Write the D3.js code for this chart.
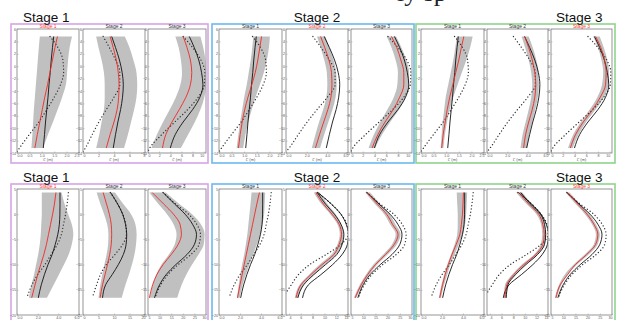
<!DOCTYPE html>
<html>
<head>
<meta charset="utf-8">
<script src="https://cdnjs.cloudflare.com/ajax/libs/d3/7.8.5/d3.min.js"></script>
<style>
body { margin: 0; background: #fff; }
svg { display: block; font-family: "Liberation Sans", Arial, sans-serif; }
</style>
</head>
<body>
<div id="chart"></div>
<script>
// depth grids (m), shared by every panel of a row
var topDepth = [4.8, 3, 1, -1, -3, -5, -7, -9, -11, -13.2];
var topDotDepth = [4.8, 3, 1, -1, -3, -5, -7, -9, -11, -13.2, -13.8];
var botDepth = [4.3, 2, 0, -2, -4, -6, -8, -10, -12, -14, -16.6];

var stageNames = ["Stage 1", "Stage 2", "Stage 3"];

// axis ranges and tick labels
var topYTicks = [6, 4, 2, 0, -2, -4, -6, -8, -10, -12, -14];
var botYTicks = [5, 0, -5, -10, -15, -20];
var topXDomains = [
	[[0, 2.5], [0, 8], [0, 10.4]],
	[[0, 2.5], [0, 6], [0, 10.4]],
	[[0, 2.5], [0, 6], [0, 10.4]]
];
var topXTicks = [
	[[0, 0.5, 1, 1.5, 2, 2.5], [0, 2, 4, 6, 8], [0, 2, 4, 6, 8, 10]],
	[[0, 0.5, 1, 1.5, 2, 2.5], [0, 2, 4, 6], [0, 2, 4, 6, 8, 10]],
	[[0, 0.5, 1, 1.5, 2, 2.5], [0, 2, 4, 6], [0, 2, 4, 6, 8, 10]]
];
var botXDomains = [
	[[0, 6], [0, 20], [5, 30]],
	[[0, 6], [3.5, 14], [5, 30]],
	[[0, 6], [3.5, 14], [5, 30]]
];
var botXTicks = [
	[[0, 2, 4, 6], [0, 5, 10, 15, 20], [5, 10, 15, 20, 25, 30]],
	[[0, 2, 4, 6], [4, 6, 8, 10, 12, 14], [5, 10, 15, 20, 25, 30]],
	[[0, 2, 4, 6], [4, 6, 8, 10, 12, 14], [5, 10, 15, 20, 25, 30]]
];

// reference profiles (black solid) and initial profiles (dotted)
var topTruth = [
	[1.48, 1.43, 1.38, 1.34, 1.29, 1.25, 1.2, 1.15, 1.11, 1.06],
	[3.7, 4.2, 4.7, 5.05, 5.2, 5.1, 4.85, 4.5, 4.2, 3.9],
	[7.4, 8.3, 9.1, 9.6, 9.85, 9.3, 8.0, 6.3, 4.9, 4.0]
];
var topDot = [
	[1.33, 1.65, 1.85, 1.88, 1.75, 1.5, 1.2, 0.88, 0.5, 0.1, 0],
	[2.6, 3.4, 4.2, 4.75, 4.75, 4.0, 3.0, 2.05, 1.2, 0.3, 0],
	[6.3, 8.0, 9.5, 10.2, 10.1, 9.0, 7.1, 4.8, 2.5, 0.3, 0]
];
var botTruth = [
	[4.16, 4.16, 4.15, 4.1, 3.95, 3.7, 3.4, 3.0, 2.65, 2.35, 2.06],
	[8.9, 11.2, 12.8, 13.7, 14.1, 13.9, 13.0, 11.4, 9.4, 7.3, 6.3],
	[11.5, 16.5, 21.0, 24.2, 25.9, 25.0, 21.8, 17.0, 12.8, 10.0, 7.8]
];
var botDot = [
	[4.97, 4.85, 4.7, 4.5, 4.3, 3.9, 3.3, 2.7, 2.0, 1.45, 0.95],
	[8.8, 11.2, 12.8, 13.8, 14.0, 12.8, 10.3, 7.5, 5.6, 4.4, 3.0],
	[11.5, 17.0, 22.5, 26.0, 27.6, 27.0, 23.5, 18.0, 13.5, 10.5, 8.0]
];

// estimated mean (red) and spread (grey band), top row
var topPurpleLo = [
	[0.92, 0.88, 0.84, 0.80, 0.76, 0.72, 0.68, 0.65, 0.62, 0.58],
	[1.7, 2.0, 2.4, 2.7, 2.8, 2.8, 2.7, 2.4, 2.1, 1.7],
	[4.9, 5.5, 5.9, 6.1, 5.8, 5.0, 3.9, 2.7, 1.6, 0.6]
];
var topPurpleHi = [
	[2.22, 2.12, 2.06, 2.02, 1.97, 1.82, 1.64, 1.45, 1.25, 1.05],
	[5.4, 6.0, 6.5, 6.9, 7.0, 6.9, 6.6, 6.2, 5.8, 5.3],
	[9.4, 9.9, 10.3, 10.4, 10.4, 10.1, 9.4, 8.4, 7.2, 5.9]
];
var topPurpleRed = [
	[1.63, 1.53, 1.43, 1.33, 1.23, 1.12, 1.02, 0.92, 0.82, 0.72],
	[3.5, 3.9, 4.3, 4.55, 4.65, 4.6, 4.4, 4.0, 3.5, 3.0],
	[6.3, 7.0, 7.6, 7.85, 7.6, 6.8, 5.6, 4.3, 3.2, 2.6]
];
var topBlueLo = [
	[1.36, 1.32, 1.26, 1.18, 1.1, 1.0, 0.92, 0.84, 0.77, 0.7],
	[3.0, 3.35, 3.7, 3.95, 4.0, 3.9, 3.6, 3.2, 2.85, 2.5],
	[6.1, 6.9, 7.6, 8.0, 7.9, 7.3, 6.2, 5.0, 3.9, 3.0]
];
var topBlueHi = [
	[2.02, 1.98, 1.9, 1.78, 1.62, 1.45, 1.3, 1.16, 1.05, 0.96],
	[3.8, 4.2, 4.6, 4.85, 4.9, 4.8, 4.5, 4.1, 3.7, 3.3],
	[7.7, 8.6, 9.4, 9.9, 9.9, 9.3, 8.2, 6.7, 5.3, 4.1]
];
var topBlueRed = [
	[1.69, 1.62, 1.54, 1.44, 1.3, 1.15, 1.02, 0.92, 0.84, 0.77],
	[3.35, 3.75, 4.15, 4.4, 4.45, 4.35, 4.05, 3.65, 3.25, 2.85],
	[6.9, 7.8, 8.5, 9.0, 9.0, 8.3, 7.2, 5.8, 4.6, 3.6]
];
var topGreenLo = [
	[1.42, 1.36, 1.28, 1.18, 1.08, 0.98, 0.92, 0.86, 0.82, 0.78],
	[3.4, 3.75, 4.1, 4.35, 4.45, 4.35, 4.1, 3.8, 3.5, 3.3],
	[7.2, 8.0, 8.6, 8.9, 8.7, 7.9, 6.6, 5.1, 3.8, 2.9]
];
var topGreenHi = [
	[2.05, 1.95, 1.8, 1.62, 1.45, 1.28, 1.14, 1.03, 0.95, 0.89],
	[4.1, 4.5, 4.85, 5.05, 5.1, 5.0, 4.75, 4.45, 4.15, 3.95],
	[8.3, 9.0, 9.6, 9.9, 9.8, 9.0, 7.6, 6.0, 4.7, 3.7]
];
var topGreenRed = [
	[1.7, 1.6, 1.5, 1.38, 1.26, 1.14, 1.04, 0.96, 0.88, 0.82],
	[3.7, 4.1, 4.45, 4.7, 4.8, 4.7, 4.45, 4.1, 3.8, 3.6],
	[7.6, 8.5, 9.1, 9.4, 9.3, 8.4, 7.1, 5.5, 4.2, 3.3]
];

// bottom row
var botPurpleLo = [
	[2.4, 2.4, 2.4, 2.35, 2.3, 2.2, 2.05, 1.85, 1.65, 1.4, 1.15],
	[4.4, 5.6, 6.8, 7.8, 8.2, 8.1, 7.6, 6.9, 6.2, 5.6, 5.0],
	[5.6, 9.5, 13.2, 16.0, 17.3, 16.5, 14.0, 10.8, 8.5, 7.0, 5.8]
];
var botPurpleHi = [
	[4.32, 4.6, 4.95, 5.3, 5.45, 5.3, 5.0, 4.55, 4.05, 3.55, 2.9],
	[10.3, 13.0, 15.5, 16.9, 17.3, 17.1, 16.6, 15.8, 14.8, 13.7, 12.5],
	[12.7, 18.5, 24.0, 27.8, 29.4, 29.0, 26.8, 24.0, 21.5, 19.5, 17.6]
];
var botPurpleRed = [
	[3.77, 3.62, 3.45, 3.25, 3.05, 2.85, 2.6, 2.3, 2.0, 1.75, 1.42],
	[6.5, 7.6, 8.5, 9.1, 9.25, 9.1, 8.6, 7.9, 7.1, 6.3, 5.5],
	[6.8, 11.8, 16.0, 18.8, 19.4, 18.0, 15.0, 11.5, 8.8, 7.0, 5.6]
];
var botBlueLo = [
	[3.1, 3.0, 2.9, 2.8, 2.7, 2.55, 2.4, 2.2, 2.02, 1.88, 1.7],
	[8.2, 9.5, 11.0, 12.2, 12.6, 12.2, 11.2, 9.2, 7.4, 5.8, 5.0],
	[10.8, 14.8, 18.6, 21.0, 23.3, 21.8, 18.2, 14.2, 11.1, 8.6, 6.2]
];
var botBlueHi = [
	[4.4, 4.35, 4.3, 4.15, 3.95, 3.6, 3.25, 2.9, 2.55, 2.25, 1.98],
	[9.2, 10.5, 11.9, 12.9, 13.3, 13.0, 12.0, 10.1, 8.2, 6.5, 5.6],
	[12.8, 17.0, 20.8, 23.2, 25.3, 23.8, 20.0, 15.8, 12.5, 9.8, 7.2]
];
var botBlueRed = [
	[3.85, 3.6, 3.4, 3.2, 3.0, 2.8, 2.6, 2.4, 2.2, 2.0, 1.76],
	[8.56, 9.85, 11.3, 12.5, 12.9, 12.5, 11.6, 9.6, 7.7, 6.05, 5.2],
	[11.65, 15.8, 19.6, 22.0, 24.3, 22.7, 19.1, 15.0, 11.8, 9.2, 6.7]
];
var botBlueExtra = [
	null,
	[8.8, 10.2, 11.7, 12.8, 13.3, 13.0, 12.1, 10.2, 8.2, 6.5, 5.5],
	null
];
var botGreenLo = [
	[3.4, 3.45, 3.5, 3.5, 3.45, 3.2, 2.85, 2.5, 2.2, 1.95, 1.7],
	[8.5, 10.3, 12.0, 12.8, 13.0, 12.75, 11.6, 9.5, 7.8, 6.6, 6.35],
	[11.0, 15.1, 18.9, 21.8, 23.4, 22.5, 18.8, 14.3, 10.6, 8.3, 6.6]
];
var botGreenHi = [
	[4.4, 4.35, 4.3, 4.2, 4.0, 3.6, 3.2, 2.8, 2.5, 2.2, 1.9],
	[9.6, 11.2, 12.8, 13.45, 13.7, 13.45, 12.2, 10.2, 8.4, 7.2, 6.9],
	[12.6, 16.9, 20.7, 23.4, 25.0, 24.1, 20.4, 15.7, 11.8, 9.3, 7.4]
];
var botGreenRed = [
	[4.04, 4.0, 3.95, 3.85, 3.7, 3.35, 2.95, 2.6, 2.3, 2.05, 1.78],
	[9.0, 10.7, 12.4, 13.1, 13.35, 13.1, 11.9, 9.85, 8.1, 6.9, 6.6],
	[11.8, 16.0, 19.8, 22.6, 24.2, 23.3, 19.6, 15.0, 11.8, 8.8, 7.0]
];
var botGreenExtra = [
	null,
	[9.3, 11.0, 12.7, 13.4, 13.6, 13.4, 12.2, 10.2, 8.4, 7.1, 6.8],
	null
];

///////////////////////////////////
////////////LAYOUT/////////////////
///////////////////////////////////

var svg = d3.select("#chart").append("svg")
	.attr("width", 617)
	.attr("height", 320);

var groups = [
	{ color: "#d6a4e6", box: [11, 208], panels: [[17, 79], [83, 145], [148, 206]], label: { x: 23, anchor: "start" } },
	{ color: "#6cb8f2", box: [212, 414], panels: [[219, 282], [286, 348], [351, 412]], label: { x: 317, anchor: "middle" } },
	{ color: "#8ed48e", box: [416, 615], panels: [[421, 484], [487, 548], [551, 612]], label: { x: 556, anchor: "start" } }
];

var rows = [
	{
		boxY: [24, 163], axisY: [29, 153], labelY: 21.5, xLabel: true,
		yDomain: [-14, 6], yTicks: topYTicks,
		depth: topDepth, dotDepth: topDotDepth,
		truth: topTruth, dot: topDot,
		xDomains: topXDomains, xTicks: topXTicks,
		lo: [topPurpleLo, topBlueLo, topGreenLo],
		hi: [topPurpleHi, topBlueHi, topGreenHi],
		red: [topPurpleRed, topBlueRed, topGreenRed],
		extra: [null, null, null]
	},
	{
		boxY: [184, 330], axisY: [189, 315], labelY: 181.5, xLabel: false,
		yDomain: [-20, 5], yTicks: botYTicks,
		depth: botDepth, dotDepth: botDepth,
		truth: botTruth, dot: botDot,
		xDomains: botXDomains, xTicks: botXTicks,
		lo: [botPurpleLo, botBlueLo, botGreenLo],
		hi: [botPurpleHi, botBlueHi, botGreenHi],
		red: [botPurpleRed, botBlueRed, botGreenRed],
		extra: [null, botBlueExtra, botGreenExtra]
	}
];

// fragment of the caption line cut off above the figure
svg.append("text")
	.attr("x", 397)
	.attr("y", 0.5)
	.style("font-family", "'Liberation Serif', 'DejaVu Serif', serif")
	.style("font-size", "26px")
	.style("fill", "#222")
	.text("ly sp");

var clipId = 0;

rows.forEach(function (row, r) {
	var y = d3.scaleLinear().domain(row.yDomain).range([row.axisY[1], row.axisY[0]]);

	groups.forEach(function (group, g) {
		svg.append("rect")
			.attr("x", group.box[0])
			.attr("y", row.boxY[0])
			.attr("width", group.box[1] - group.box[0])
			.attr("height", row.boxY[1] - row.boxY[0])
			.attr("fill", "none")
			.attr("stroke", group.color)
			.attr("stroke-width", 1.6);

		svg.append("text")
			.attr("x", group.label.x)
			.attr("y", row.labelY)
			.attr("text-anchor", group.label.anchor)
			.style("font-size", "13.5px")
			.style("fill", "#111")
			.text(stageNames[g]);

		group.panels.forEach(function (px, s) {
			drawPanel(row, r, g, s, px, y);
		});
	});
});

///////////////////////////////////
////////////DRAWING////////////////
///////////////////////////////////

function drawPanel(row, r, g, s, px, y) {
	var x = d3.scaleLinear().domain(row.xDomains[g][s]).range(px);
	var depth = row.depth;
	var id = "clip" + (clipId++);

	svg.append("clipPath").attr("id", id)
		.append("rect")
		.attr("x", px[0]).attr("y", row.axisY[0])
		.attr("width", px[1] - px[0]).attr("height", row.axisY[1] - row.axisY[0]);

	var panel = svg.append("g");
	var plot = panel.append("g").attr("clip-path", "url(#" + id + ")");

	var lo = row.lo[g][s], hi = row.hi[g][s];

	var band = d3.area()
		.y(function (d, i) { return y(depth[i]); })
		.x0(function (d, i) { return x(lo[i]); })
		.x1(function (d, i) { return x(hi[i]); })
		.curve(d3.curveMonotoneY);

	plot.append("path")
		.attr("d", band(lo))
		.attr("fill", "#c0c0c0");

	drawProfile(plot, row.dot[s], row.dotDepth, x, y, "#333", 1.3, "0.1,3.2");
	drawProfile(plot, row.truth[s], depth, x, y, "#111", 0.9);
	if (row.extra[g] && row.extra[g][s]) {
		drawProfile(plot, row.extra[g][s], depth, x, y, "#111", 0.9);
	}
	drawProfile(plot, row.red[g][s], depth, x, y, "#ee2a24", 0.9);

	// frame and ticks
	panel.append("rect")
		.attr("x", px[0]).attr("y", row.axisY[0])
		.attr("width", px[1] - px[0]).attr("height", row.axisY[1] - row.axisY[0])
		.attr("fill", "none")
		.attr("stroke", "#7a7a7a")
		.attr("stroke-width", 0.8);

	var xTicks = row.xTicks[g][s];
	var xAxis = d3.axisBottom(x).tickValues(xTicks).tickSize(-1.5).tickPadding(1.2);
	var yAxis = d3.axisLeft(y).tickValues(row.yTicks).tickSize(-1.5).tickPadding(1);

	var xg = panel.append("g")
		.attr("transform", "translate(0," + row.axisY[1] + ")")
		.call(xAxis);
	var yg = panel.append("g")
		.attr("transform", "translate(" + px[0] + ",0)")
		.call(yAxis);

	[xg, yg].forEach(function (ax) {
		ax.select(".domain").remove();
		ax.selectAll("line").attr("stroke", "#999").attr("stroke-width", 0.5);
		ax.selectAll("text")
			.style("font-size", "3.6px")
			.style("font-family", "'Liberation Sans', Arial, sans-serif")
			.attr("fill", "#555");
	});

	// keep the end labels of neighbouring panels apart
	xg.selectAll(".tick text")
		.attr("text-anchor", function (d, i) {
			if (i === 0) return "start";
			if (i === xTicks.length - 1) return "end";
			return "middle";
		});

	if (row.xLabel) {
		panel.append("text")
			.attr("x", (px[0] + px[1]) / 2)
			.attr("y", row.axisY[1] + 8)
			.attr("text-anchor", "middle")
			.style("font-size", "4px")
			.attr("fill", "#555")
			.text("\u03B6' (m)");
	}

	panel.append("text")
		.attr("x", (px[0] + px[1]) / 2)
		.attr("y", row.axisY[0] - 1.2)
		.attr("text-anchor", "middle")
		.style("font-size", "5px")
		.attr("fill", s === g ? "#ff3b30" : "#333")
		.text(stageNames[s]);
}

function drawProfile(container, values, depth, x, y, color, width, dash) {
	var line = d3.line()
		.x(function (d) { return x(d); })
		.y(function (d, i) { return y(depth[i]); })
		.curve(d3.curveMonotoneY);

	var path = container.append("path")
		.attr("d", line(values))
		.attr("fill", "none")
		.attr("stroke", color)
		.attr("stroke-width", width);

	if (dash) {
		path.attr("stroke-dasharray", dash).attr("stroke-linecap", "round");
	}
}
</script>
</body>
</html>
